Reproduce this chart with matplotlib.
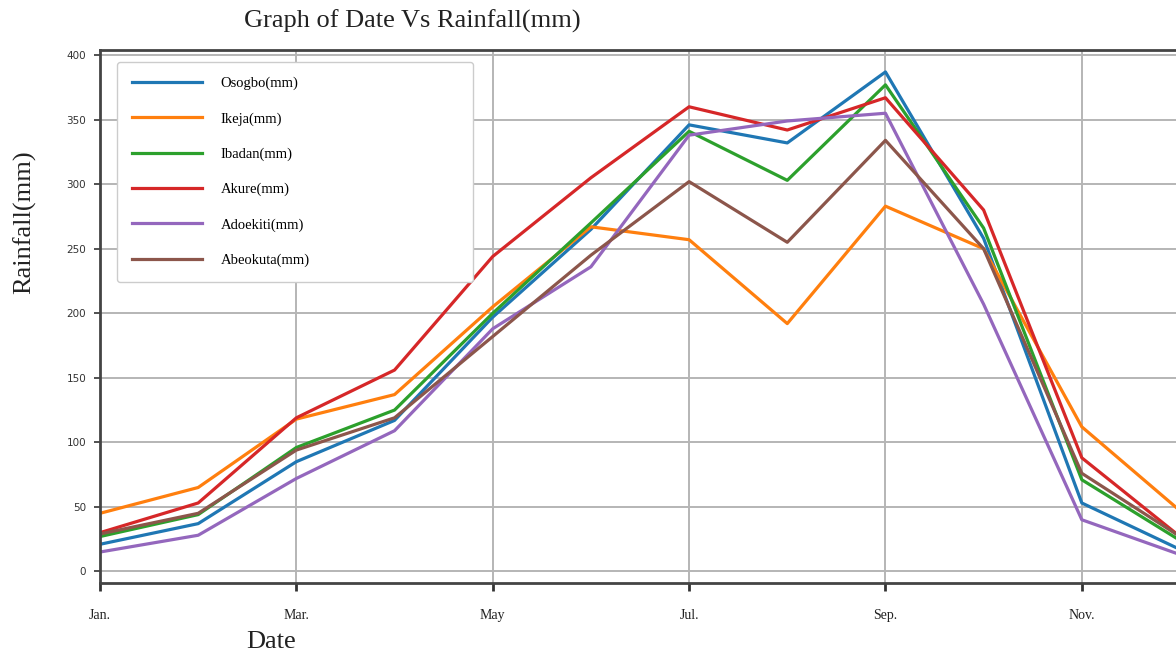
import numpy as np
import matplotlib.pyplot as plt

months = ['Jan.', 'Feb.', 'Mar.', 'Apr.', 'May', 'Jun.', 'Jul.', 'Aug.', 'Sep.', 'Oct.', 'Nov.', 'Dec.']
tick_labels = ['Jan.', 'Mar.', 'May', 'Jul.', 'Sep.', 'Nov.']

osogbo = [21, 37, 85, 117, 197, 265, 346, 332, 387, 258, 53, 17]
ikeja = [45, 65, 118, 137, 205, 267, 257, 192, 283, 250, 112, 47]
ibadan = [27, 44, 96, 125, 200, 270, 341, 303, 377, 266, 71, 24]
akure = [30, 53, 119, 156, 244, 305, 360, 342, 367, 280, 88, 27]
adoekiti = [15, 28, 72, 109, 188, 236, 338, 349, 355, 207, 40, 13]
abeokuta = [29, 45, 94, 119, 182, 245, 302, 255, 334, 250, 76, 27]

series = [('Osogbo(mm)', osogbo), ('Ikeja(mm)', ikeja), ('Ibadan(mm)', ibadan),
          ('Akure(mm)', akure), ('Adoekiti(mm)', adoekiti), ('Abeokuta(mm)', abeokuta)]
colors = ['#1f77b4', '#ff7f0e', '#2ca02c', '#d62728', '#9467bd', '#8c564b']

serif = ['Liberation Serif', 'DejaVu Serif']

fig = plt.figure(figsize=(11.76, 6.57), dpi=100)
ax = fig.add_axes([100 / 1176, 74 / 657, 1080 / 1176, 533 / 657])

x = np.arange(len(months))
for (name, vals), c in zip(series, colors):
    ax.plot(x, vals, color=c, linewidth=2.3, label=name)

ax.set_xlim(0, 11)
ax.set_ylim(-9, 404)
ax.set_xticks(x[::2])
ax.set_xticklabels(tick_labels, family=serif, fontsize=10)
ax.set_yticks(np.arange(0, 401, 50))
ax.tick_params(axis='y', labelsize=7.5, length=4, width=1.2, colors='#333333', pad=6)
ax.tick_params(axis='x', length=6, width=2, colors='#333333', pad=13)
for lbl in ax.get_xticklabels():
    lbl.set_color('#222222')

ax.grid(True, color='#b5b5b5', linewidth=1.4)
for s in ['left', 'bottom', 'top']:
    ax.spines[s].set_color('#444444')
    ax.spines[s].set_linewidth(2)
ax.spines['right'].set_visible(False)

leg = ax.legend(loc='upper left', bbox_to_anchor=(17 / 1080, 0.555, 356 / 1080, 0.422),
                mode='expand', borderaxespad=0, prop={'family': serif, 'size': 10.5},
                handlelength=4.8, handletextpad=1.3, labelspacing=1.5,
                borderpad=1.0, fancybox=True, framealpha=1, edgecolor='#cccccc')

fig.text(412 / 1176, 1 - 21 / 657, 'Graph of Date Vs Rainfall(mm)', family=serif,
         fontsize=19, ha='center', va='center', color='#222222')
fig.text(25 / 1176, 1 - 222 / 657, 'Rainfall(mm)', family=serif, fontsize=19,
         rotation=90, ha='center', va='center', color='#222222')
fig.text(271 / 1176, 1 - 642 / 657, 'Date', family=serif, fontsize=19,
         ha='center', va='center', color='#222222')

fig.savefig('out.png', dpi=100)
